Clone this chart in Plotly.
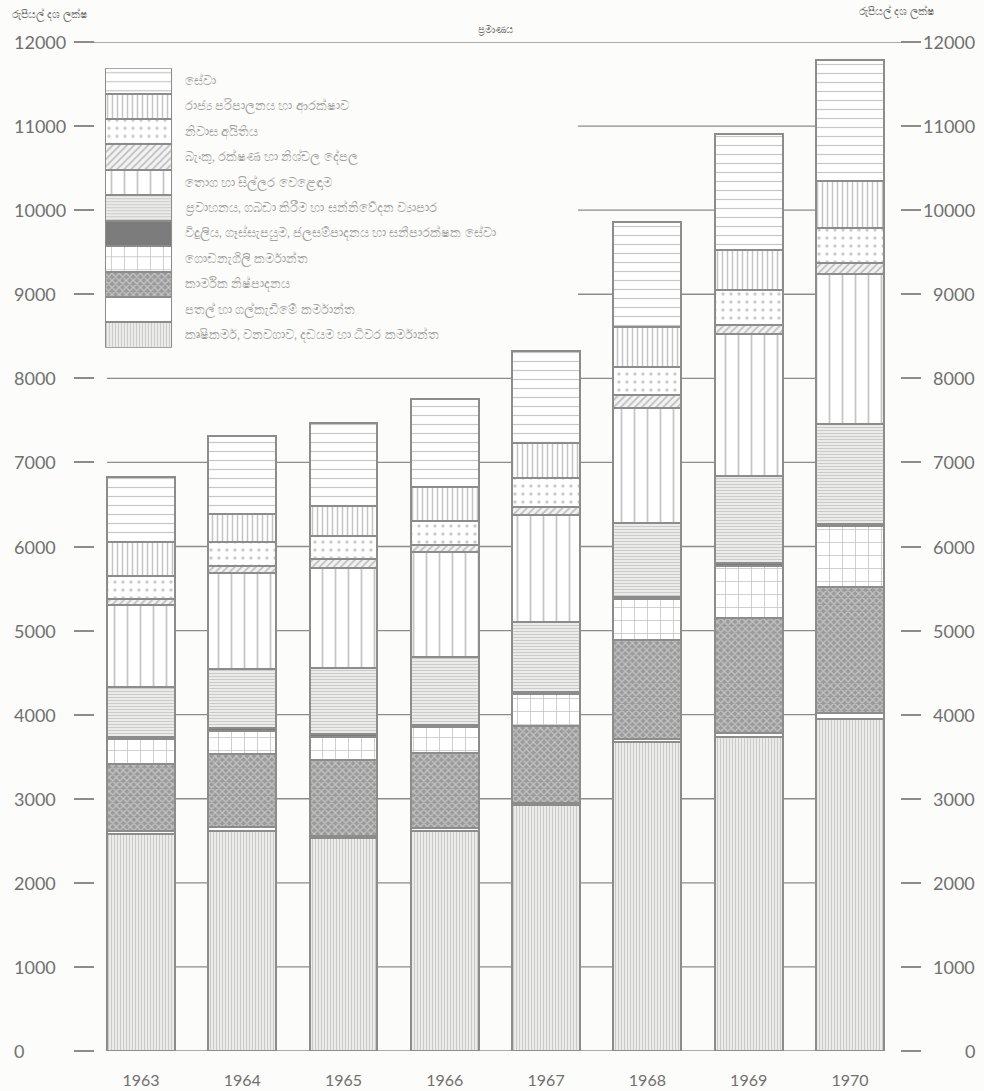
import plotly.graph_objects as go

# ---------------- data (Rs. million) ----------------
years = [1963, 1964, 1965, 1966, 1967, 1968, 1969, 1970]

# sectors listed bottom -> top of each stacked bar
sectors = [
    "කෘෂිකර්ම, වනවගාව, දඩයම හා ධීවර කර්මාන්ත",
    "පතල් හා ගල්කැඩීමේ කර්මාන්ත",
    "කාර්මික නිෂ්පාදනය",
    "ගොඩනැගිලි කර්මාන්ත",
    "විදුලිය, ගෑස්සැපයුම, ජලසම්පාදනය හා සනීපාරක්ෂක සේවා",
    "ප්‍රවාහනය, ගබඩා කිරීම හා සන්නිවේදන ව්‍යාපාර",
    "තොග හා සිල්ලර වෙළෙඳාම",
    "බැංකු, රක්ෂණ හා නිශ්චල දේපල",
    "නිවාස අයිතිය",
    "රාජ්‍ය පරිපාලනය හා ආරක්ෂාව",
    "සේවා",
]

agriculture   = [2580, 2620, 2530, 2620, 2930, 3670, 3740, 3950]
mining        = [40, 50, 30, 30, 25, 38, 45, 65]
manufacturing = [795, 860, 900, 900, 910, 1177, 1360, 1500]
construction  = [295, 280, 280, 300, 375, 485, 625, 725]
electricity   = [30, 30, 30, 30, 30, 30, 30, 30]
transport     = [590, 700, 790, 800, 835, 885, 1040, 1185]
trade         = [980, 1150, 1190, 1260, 1270, 1360, 1690, 1790]
banking       = [60, 80, 105, 80, 95, 155, 100, 130]
dwellings     = [280, 280, 265, 285, 350, 330, 425, 410]
public_admin  = [400, 340, 360, 405, 410, 480, 475, 560]
services      = [780, 920, 990, 1040, 1090, 1250, 1370, 1440]

series = [agriculture, mining, manufacturing, construction, electricity,
          transport, trade, banking, dwellings, public_admin, services]

y_ticks = [0, 1000, 2000, 3000, 4000, 5000, 6000, 7000, 8000, 9000, 10000, 11000, 12000]
unit_label = "රුපියල් දශ ලක්ෂ"
top_label = "ප්‍රමාණය"

# ---------------- styles ----------------
LINE = "#8c8c8c"
TXT = "#707070"
BG = "#fcfcfa"
BAR_W = 0.67
X_RANGE = [1962.546, 1970.494]
Y_RANGE = [0, 12000]
LEGEND_DOMAIN_Y = [0.697, 0.974]
LEGEND_TEXT_END = 0.60   # fraction of plot width taken by the legend block

styles = [
    dict(shape="|", size=3, solidity=0.35, fg="#acacac", bg="#ebebe9"),   # agriculture
    dict(shape="", size=8, solidity=0.2, fg="#ffffff", bg="#ffffff"),     # mining
    dict(shape="x", size=5, solidity=0.45, fg="#ececec", bg="#9a9a9a"),   # manufacturing
    dict(shape="+", size=13, solidity=0.12, fg="#8a8a8a", bg="#ffffff"),  # construction
    dict(shape="", size=8, solidity=0.2, fg="#7c7c7c", bg="#7c7c7c"),     # electricity
    dict(shape="-", size=3, solidity=0.4, fg="#a8a8a8", bg="#eeeeec"),    # transport
    dict(shape="|", size=13, solidity=0.14, fg="#8e8e8e", bg="#ffffff"),  # trade
    dict(shape="/", size=5, solidity=0.35, fg="#8e8e8e", bg="#f3f3f3"),   # banking
    dict(shape=".", size=8, solidity=0.15, fg="#9a9a9a", bg="#ffffff"),   # dwellings
    dict(shape="|", size=5, solidity=0.3, fg="#8a8a8a", bg="#ffffff"),    # public admin
    dict(shape="-", size=9, solidity=0.13, fg="#8e8e8e", bg="#ffffff"),   # services
]


def marker_for(st):
    return dict(
        color=st["bg"],
        pattern=dict(shape=st["shape"], size=st["size"], solidity=st["solidity"],
                     fgcolor=st["fg"], bgcolor=st["bg"], fillmode="overlay"),
        line=dict(color=LINE, width=2),
    )


fig = go.Figure()

# main stacked bars
for name, vals, st in zip(sectors, series, styles):
    fig.add_trace(go.Bar(x=years, y=vals, name=name, width=BAR_W,
                         marker=marker_for(st), showlegend=False,
                         xaxis="x", yaxis="y"))

# pattern legend drawn as one stacked swatch column
for i, (name, st) in enumerate(zip(sectors, styles)):
    fig.add_trace(go.Bar(x=[0], y=[1], width=1, marker=marker_for(st),
                         showlegend=False, xaxis="x2", yaxis="y2", hoverinfo="skip"))

annotations = []
# legend labels
for i, name in enumerate(sectors):
    annotations.append(dict(x=0.109, xref="paper", y=i + 0.5, yref="y2", text=name,
                            showarrow=False, xanchor="left", yanchor="middle",
                            font=dict(size=12.5, color="#a0a0a0")))
# left and right tick labels (outer-aligned)
for v in y_ticks:
    annotations.append(dict(x=-0.103, xref="paper", y=v, yref="y", text=str(v),
                            showarrow=False, xanchor="left", yanchor="middle",
                            font=dict(size=18, color=TXT, family="Lato")))
    annotations.append(dict(x=1.0957, xref="paper", y=v, yref="y", text=str(v),
                            showarrow=False, xanchor="right", yanchor="middle",
                            font=dict(size=18, color=TXT, family="Lato")))
# unit labels
annotations.append(dict(x=-0.106, xref="paper", y=1.027, yref="paper", text=unit_label,
                        showarrow=False, xanchor="left", yanchor="middle",
                        font=dict(size=11, color=TXT)))
annotations.append(dict(x=1.045, xref="paper", y=1.030, yref="paper", text=unit_label,
                        showarrow=False, xanchor="right", yanchor="middle",
                        font=dict(size=11, color=TXT)))
annotations.append(dict(x=0.497, xref="paper", y=1.012, yref="paper", text=top_label,
                        showarrow=False, xanchor="center", yanchor="middle",
                        font=dict(size=10, color=TXT)))

# grid lines (below bars): from first to last bar, skipping the legend block;
# the top line spans the full width
x_span = X_RANGE[1] - X_RANGE[0]
first_edge = (years[0] - BAR_W / 2 - X_RANGE[0]) / x_span
last_edge = (years[-1] + BAR_W / 2 - X_RANGE[0]) / x_span
shapes = []
for v in y_ticks:
    frac = (v - Y_RANGE[0]) / (Y_RANGE[1] - Y_RANGE[0])
    if v == y_ticks[-1]:
        x0, x1, w = -0.025, 1.02, 1.4
    elif LEGEND_DOMAIN_Y[0] <= frac <= LEGEND_DOMAIN_Y[1]:
        x0, x1, w = LEGEND_TEXT_END, last_edge, 1.3
    else:
        x0, x1, w = first_edge, last_edge, 1.3
    shapes.append(dict(type="line", xref="paper", x0=x0, x1=x1, yref="y",
                       y0=v, y1=v, line=dict(color=LINE, width=w), layer="below"))

fig.update_layout(
    width=984, height=1091,
    margin=dict(l=95, r=84, t=42, b=40),
    paper_bgcolor=BG, plot_bgcolor="rgba(0,0,0,0)",
    barmode="stack",
    font=dict(family="Lato", color=TXT),
    xaxis=dict(range=X_RANGE, tickvals=years, ticktext=[str(y) for y in years],
               showgrid=False, zeroline=False, showline=False, ticks="",
               ticklabelstandoff=18, tickfont=dict(size=16, color=TXT), automargin=False),
    yaxis=dict(range=Y_RANGE, tickvals=y_ticks, showticklabels=False,
               showgrid=False, zeroline=False, automargin=False,
               showline=False, ticks="outside", ticklen=20, tickwidth=1.5,
               tickcolor=LINE, mirror="ticks"),
    xaxis2=dict(domain=[0.0124, 0.0957], anchor="y2", range=[-0.5, 0.5], visible=False),
    yaxis2=dict(domain=LEGEND_DOMAIN_Y, anchor="x2", range=[0, 11], visible=False),
    annotations=annotations,
    shapes=shapes,
)

fig.write_html("out.html", config={"displayModeBar": False},
               post_script="document.body.style.margin='0';")
